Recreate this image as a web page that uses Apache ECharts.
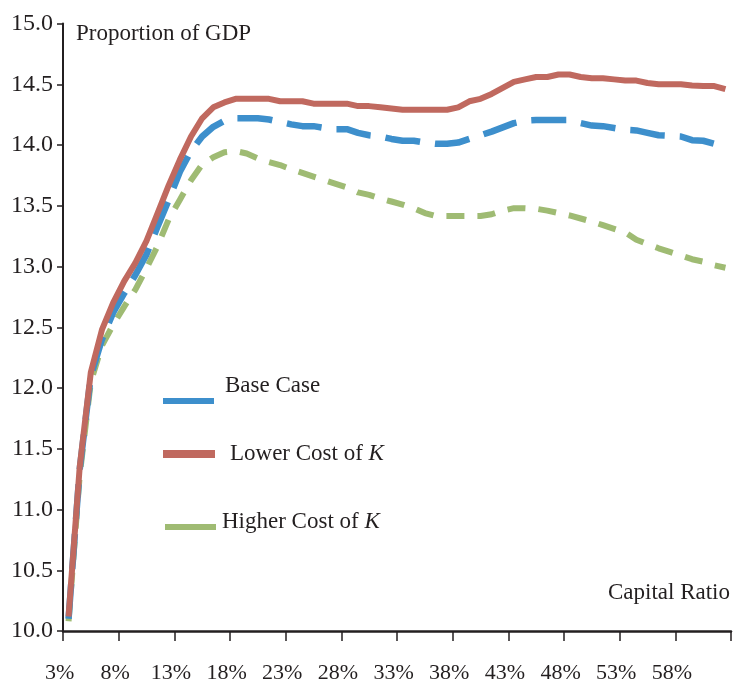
<!DOCTYPE html>
<html>
<head>
<meta charset="utf-8">
<script src="https://cdn.jsdelivr.net/npm/echarts@6/dist/echarts.min.js"></script>
<style>
  html, body { margin: 0; padding: 0; background: #fff; }
  #chart { width: 734px; height: 688px; }
</style>
</head>
<body>
<div id="chart"></div>
<script>
const categories = [
  '3%', '4%', '5%', '6%', '7%', '8%', '9%', '10%', '11%', '12%',
  '13%', '14%', '15%', '16%', '17%', '18%', '19%', '20%', '21%', '22%',
  '23%', '24%', '25%', '26%', '27%', '28%', '29%', '30%', '31%', '32%',
  '33%', '34%', '35%', '36%', '37%', '38%', '39%', '40%', '41%', '42%',
  '43%', '44%', '45%', '46%', '47%', '48%', '49%', '50%', '51%', '52%',
  '53%', '54%', '55%', '56%', '57%', '58%', '59%', '60%', '61%', '62%'
];

const baseCase = [
  10.10, 11.33, 12.10, 12.40, 12.62, 12.78, 12.93, 13.10, 13.33, 13.55,
  13.78, 13.95, 14.07, 14.15, 14.20, 14.22, 14.22, 14.22, 14.21, 14.19,
  14.17, 14.155, 14.155, 14.14, 14.13, 14.13, 14.10, 14.08, 14.07, 14.05,
  14.035, 14.035, 14.02, 14.01, 14.01, 14.02, 14.05, 14.08, 14.11, 14.145,
  14.18, 14.20, 14.205, 14.205, 14.205, 14.205, 14.18, 14.16, 14.155, 14.14,
  14.125, 14.12, 14.10, 14.08, 14.075, 14.07, 14.04, 14.035, 14.01, 13.99
];

const lowerCost = [
  10.12, 11.35, 12.13, 12.48, 12.70, 12.88, 13.03, 13.21, 13.44, 13.67,
  13.88, 14.07, 14.22, 14.31, 14.35, 14.38, 14.38, 14.38, 14.38, 14.36,
  14.36, 14.36, 14.34, 14.34, 14.34, 14.34, 14.32, 14.32, 14.31, 14.30,
  14.29, 14.29, 14.29, 14.29, 14.29, 14.31, 14.36, 14.38, 14.42, 14.47,
  14.52, 14.54, 14.56, 14.56, 14.58, 14.58, 14.56, 14.55, 14.55, 14.54,
  14.53, 14.53, 14.51, 14.50, 14.50, 14.50, 14.49, 14.485, 14.485, 14.46
];

const higherCost = [
  10.08, 11.28, 12.05, 12.35, 12.52, 12.67, 12.81, 12.985, 13.17, 13.39,
  13.55, 13.71, 13.84, 13.90, 13.94, 13.95, 13.93, 13.89, 13.86, 13.835,
  13.80, 13.77, 13.74, 13.71, 13.68, 13.65, 13.61, 13.59, 13.56, 13.535,
  13.51, 13.48, 13.44, 13.415, 13.415, 13.415, 13.415, 13.415, 13.43, 13.46,
  13.48, 13.48, 13.475, 13.46, 13.44, 13.42, 13.395, 13.37, 13.34, 13.31,
  13.28, 13.22, 13.185, 13.15, 13.12, 13.09, 13.06, 13.04, 13.01, 12.99
];

const FONT = 'Liberation Serif';
const INK = '#231f20';
const BLUE = '#3d8fcc';
const RED = '#c0695f';
const GREEN = '#9fbb73';

const chart = echarts.init(document.getElementById('chart'));

// hand-placed key: solid swatch + label (italic K), like the original figure
const keyItem = (label, color, bar, textPos) => [
  {
    type: 'rect',
    shape: bar,
    style: { fill: color }
  },
  {
    type: 'text',
    style: {
      x: textPos[0],
      y: textPos[1],
      text: label.replace(/ K$/, ' {i|K}'),
      fontFamily: FONT,
      fontSize: 23,
      fill: INK,
      verticalAlign: 'middle',
      rich: {
        i: { fontFamily: FONT, fontSize: 23, fontStyle: 'italic', fill: INK }
      }
    }
  }
];

const option = {
  animation: false,
  backgroundColor: '#fff',
  title: [
    {
      text: 'Proportion of GDP',
      left: 76,
      top: 22,
      padding: 0,
      textStyle: { fontFamily: FONT, fontSize: 23, fontWeight: 'normal', color: INK }
    },
    {
      text: 'Capital Ratio',
      right: 4,
      top: 581,
      padding: 0,
      textStyle: { fontFamily: FONT, fontSize: 23, fontWeight: 'normal', color: INK }
    }
  ],
  graphic: [].concat(
    keyItem('Base Case', BLUE, { x: 163, y: 398, width: 51, height: 6 }, [225, 386]),
    keyItem('Lower Cost of K', RED, { x: 163, y: 450, width: 52, height: 8 }, [230, 454]),
    keyItem('Higher Cost of K', GREEN, { x: 165, y: 524, width: 51, height: 6 }, [222, 522])
  ),
  grid: { left: 63, right: 3, top: 23.5, bottom: 57 },
  xAxis: {
    type: 'category',
    data: categories,
    boundaryGap: true,
    axisLine: { lineStyle: { color: INK, width: 2.5 } },
    axisTick: { show: true, interval: 4, length: 10, lineStyle: { color: INK, width: 1.5 } },
    axisLabel: {
      interval: 4,
      margin: 31,
      padding: [0, 18, 0, 0],
      fontFamily: FONT,
      fontSize: 22,
      color: INK
    },
    splitLine: { show: false }
  },
  yAxis: {
    type: 'value',
    min: 10,
    max: 15,
    interval: 0.5,
    axisLine: { show: true, lineStyle: { color: INK, width: 2 } },
    axisTick: { show: true, length: 6, lineStyle: { color: INK, width: 1.5 } },
    axisLabel: {
      margin: 10,
      fontFamily: FONT,
      fontSize: 24,
      color: INK,
      formatter: (v) => v.toFixed(1)
    },
    splitLine: { show: false }
  },
  series: [
    {
      name: 'Higher Cost of K',
      type: 'line',
      data: higherCost,
      symbol: 'none',
      color: GREEN,
      lineStyle: { color: GREEN, width: 6, type: [18, 13] },
      z: 2
    },
    {
      name: 'Base Case',
      type: 'line',
      data: baseCase,
      symbol: 'none',
      color: BLUE,
      lineStyle: { color: BLUE, width: 6.5, type: [35, 15] },
      z: 3
    },
    {
      name: 'Lower Cost of K',
      type: 'line',
      data: lowerCost,
      symbol: 'none',
      color: RED,
      lineStyle: { color: RED, width: 6, type: 'solid' },
      z: 4
    }
  ]
};

chart.setOption(option);
window.addEventListener('resize', () => chart.resize());
</script>
</body>
</html>
